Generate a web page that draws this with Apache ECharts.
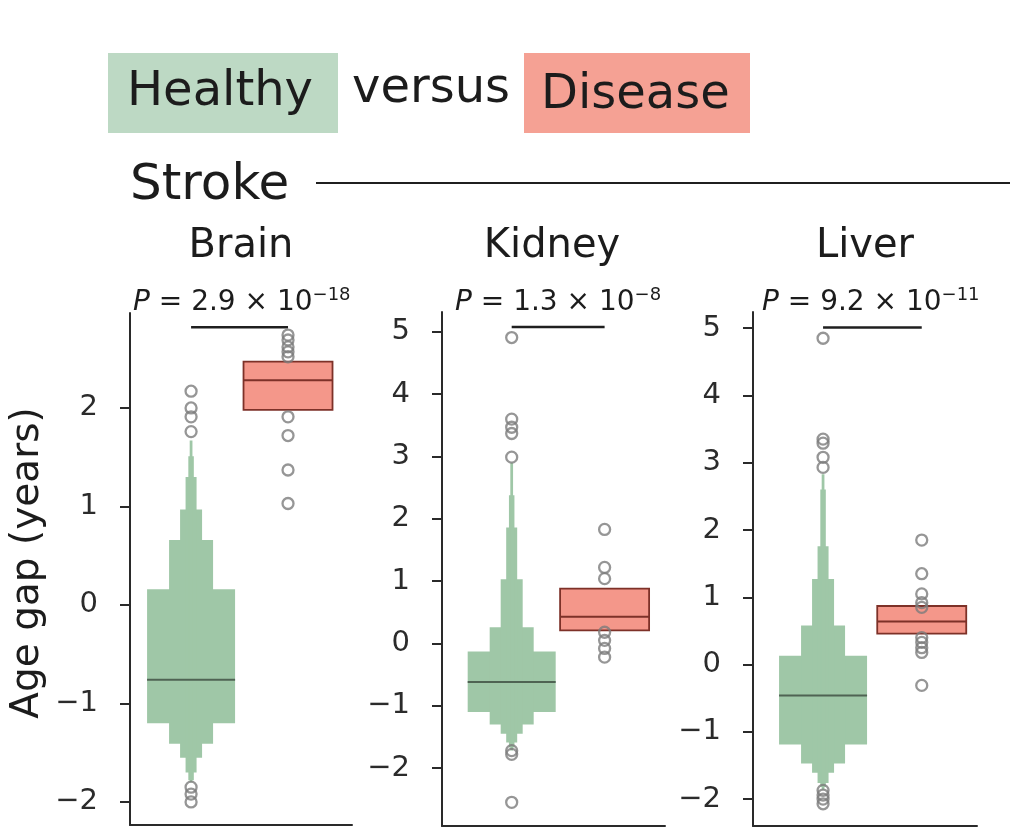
<!DOCTYPE html>
<html><head><meta charset="utf-8">
<script src="https://cdn.jsdelivr.net/npm/echarts@6/dist/echarts.min.js"></script>
<style>html,body{margin:0;padding:0;background:#fff}#c{width:1024px;height:831px}</style>
</head><body><div id="c"></div>
<script>
// ---------- data ----------
const organs = ['Brain', 'Kidney', 'Liver'];
const pMantissa = ['2.9', '1.3', '9.2'];
const pExponent = ['\u221218', '\u22128', '\u221211'];

const brainTicks = [-2, -1, 0, 1, 2];
const kidneyTicks = [-2, -1, 0, 1, 2, 3, 4, 5];
const liverTicks = [-2, -1, 0, 1, 2, 3, 4, 5];

// letter-value boxes for Healthy: [low, high] from widest (level 0) to narrowest
const brainHealthyLevels = [[-1.20, 0.16], [-1.41, 0.66], [-1.55, 0.97], [-1.70, 1.30], [-1.78, 1.51], [-1.80, 1.67]];
const kidneyHealthyLevels = [[-1.10, -0.13], [-1.30, 0.26], [-1.45, 1.03], [-1.59, 1.86], [-1.67, 2.38], [-1.72, 2.90]];
const liverHealthyLevels = [[-1.19, 0.13], [-1.47, 0.58], [-1.61, 1.27], [-1.76, 1.76], [-1.82, 2.60], [-1.86, 2.83]];

const brainHealthyMedian = -0.76;
const kidneyHealthyMedian = -0.62;
const liverHealthyMedian = -0.46;

const brainHealthyOutliers = [2.17, 2.00, 1.91, 1.76, -1.85, -1.92, -2.00];
const kidneyHealthyOutliers = [4.91, 3.60, 3.47, 3.37, 2.99, -1.72, -1.78, -2.55];
const liverHealthyOutliers = [4.85, 3.35, 3.29, 3.08, 2.93, -1.87, -1.94, -2.00, -2.07];

// Disease boxes: [q1, median, q3]
const brainDiseaseBox = [1.98, 2.28, 2.47];
const kidneyDiseaseBox = [0.21, 0.43, 0.88];
const liverDiseaseBox = [0.46, 0.64, 0.87];

const brainDiseaseOutliers = [2.74, 2.69, 2.62, 2.57, 2.52, 1.91, 1.72, 1.37, 1.03];
const kidneyDiseaseOutliers = [1.83, 1.22, 1.04, 0.18, 0.05, -0.08, -0.22];
const liverDiseaseOutliers = [1.85, 1.35, 1.05, 0.92, 0.85, 0.40, 0.33, 0.25, 0.18, -0.31];

// significance bracket height (value units)
const bracketLevels = [2.82, 5.08, 5.01];

// ---------- layout / style ----------
const FONT = 'DejaVu Sans';
const healthyFill = '#9fc7a7';
const diseaseFill = '#f4978a';
const diseaseEdge = '#7d3128';
const healthyMedianColor = '#4f6353';
const outlierColor = '#7c7c7c';
const axisColor = '#2a2a2a';
const textColor = '#1c1c1c';
const HALF_W = 44;
const DIS_HALF_W = 44.5;

const panels = [
  { left: 130, width: 222, top: 313, height: 512, yMin: -2.234, yMax: 2.964, xMin: -0.63, xMax: 1.66, ticks: brainTicks, pX: 133, titleX: 241 },
  { left: 442, width: 223, top: 312, height: 514, yMin: -2.93, yMax: 5.32, xMin: -0.75, xMax: 1.65, ticks: kidneyTicks, pX: 455, titleX: 552 },
  { left: 753, width: 224, top: 312, height: 514, yMin: -2.40, yMax: 5.24, xMin: -0.71, xMax: 1.56, ticks: liverTicks, pX: 762, titleX: 865 }
];

const healthyLevels = [brainHealthyLevels, kidneyHealthyLevels, liverHealthyLevels];
const healthyMedians = [brainHealthyMedian, kidneyHealthyMedian, liverHealthyMedian];
const healthyOutliers = [brainHealthyOutliers, kidneyHealthyOutliers, liverHealthyOutliers];
const diseaseBoxes = [brainDiseaseBox, kidneyDiseaseBox, liverDiseaseBox];
const diseaseOutliers = [brainDiseaseOutliers, kidneyDiseaseOutliers, liverDiseaseOutliers];

const fmt = v => String(v).replace('-', '\u2212');

const grid = [], xAxis = [], yAxis = [], series = [];
panels.forEach((p, i) => {
  grid.push({ left: p.left, top: p.top, width: p.width, height: p.height, containLabel: false });
  xAxis.push({
    type: 'value', gridIndex: i, min: p.xMin, max: p.xMax,
    axisLine: { show: true, onZero: false, lineStyle: { color: axisColor, width: 2 } },
    axisTick: { show: false }, axisLabel: { show: false }, splitLine: { show: false }
  });
  yAxis.push({
    type: 'value', gridIndex: i, min: p.yMin, max: p.yMax,
    axisLine: { show: true, onZero: false, lineStyle: { color: axisColor, width: 2 } },
    axisTick: { show: true, customValues: p.ticks, length: 10, lineStyle: { color: axisColor, width: 2 } },
    axisLabel: { show: true, customValues: p.ticks, formatter: fmt, fontFamily: FONT, fontSize: 29, color: '#2b2b2b', margin: 32 },
    splitLine: { show: false }
  });

  // healthy letter-value boxes
  series.push({
    type: 'custom', xAxisIndex: i, yAxisIndex: i, z: 2,
    data: healthyLevels[i].map((lv, k) => [0, lv[0], lv[1], k]),
    renderItem: (params, api) => {
      const x = api.value(0), lo = api.value(1), hi = api.value(2), lvl = api.value(3);
      const t = api.coord([x, hi]), b = api.coord([x, lo]);
      const hw = HALF_W / Math.pow(2, lvl);
      return { type: 'rect', shape: { x: t[0] - hw, y: t[1], width: 2 * hw, height: b[1] - t[1] }, style: { fill: healthyFill } };
    }
  });
  // healthy median
  series.push({
    type: 'custom', xAxisIndex: i, yAxisIndex: i, z: 3,
    data: [[0, healthyMedians[i]]],
    renderItem: (params, api) => {
      const c = api.coord([api.value(0), api.value(1)]);
      return { type: 'line', shape: { x1: c[0] - HALF_W, y1: c[1], x2: c[0] + HALF_W, y2: c[1] }, style: { stroke: healthyMedianColor, lineWidth: 2 } };
    }
  });
  // disease box
  series.push({
    type: 'custom', xAxisIndex: i, yAxisIndex: i, z: 3,
    data: [[1].concat(diseaseBoxes[i])],
    renderItem: (params, api) => {
      const x = api.value(0);
      const q1 = api.coord([x, api.value(1)]), md = api.coord([x, api.value(2)]), q3 = api.coord([x, api.value(3)]);
      return {
        type: 'group', children: [
          { type: 'rect', shape: { x: q3[0] - DIS_HALF_W, y: q3[1], width: 2 * DIS_HALF_W, height: q1[1] - q3[1] }, style: { fill: diseaseFill, stroke: diseaseEdge, lineWidth: 1.8 } },
          { type: 'line', shape: { x1: md[0] - DIS_HALF_W, y1: md[1], x2: md[0] + DIS_HALF_W, y2: md[1] }, style: { stroke: diseaseEdge, lineWidth: 2 } }
        ]
      };
    }
  });
  // outliers
  [[0, healthyOutliers[i]], [1, diseaseOutliers[i]]].forEach(([gx, arr]) => {
    series.push({
      type: 'scatter', xAxisIndex: i, yAxisIndex: i, z: 5,
      symbol: 'circle', symbolSize: 11,
      itemStyle: { color: 'rgba(255,255,255,0)', borderColor: outlierColor, borderWidth: 2.3 },
      data: arr.map(v => [gx, v]), silent: true
    });
  });
  // bracket
  series.push({
    type: 'line', xAxisIndex: i, yAxisIndex: i, z: 4, symbol: 'none', silent: true,
    lineStyle: { color: '#1f1f1f', width: 2.5 },
    data: [[0, bracketLevels[i]], [1, bracketLevels[i]]]
  });
});

const graphic = [
  { type: 'rect', shape: { x: 108, y: 53, width: 230, height: 80 }, style: { fill: '#bdd9c4' } },
  { type: 'text', x: 127, y: 93, style: { text: 'Healthy', font: '48px "' + FONT + '"', fill: textColor, verticalAlign: 'middle' } },
  { type: 'text', x: 352, y: 90, style: { text: 'versus', font: '48px "' + FONT + '"', fill: textColor, verticalAlign: 'middle' } },
  { type: 'rect', shape: { x: 524, y: 53, width: 226, height: 80 }, style: { fill: '#f5a194' } },
  { type: 'text', x: 541, y: 96, style: { text: 'Disease', font: '48px "' + FONT + '"', fill: textColor, verticalAlign: 'middle' } },
  { type: 'text', x: 130, y: 186, style: { text: 'Stroke', font: '50px "' + FONT + '"', fill: textColor, verticalAlign: 'middle' } },
  { type: 'line', shape: { x1: 316, y1: 183, x2: 1010, y2: 183 }, style: { stroke: '#1f1f1f', lineWidth: 2 } },
  { type: 'text', x: 28, y: 563, rotation: Math.PI / 2, style: { text: 'Age gap (years)', font: '39px "' + FONT + '"', fill: textColor, align: 'center', verticalAlign: 'middle' } }
];
panels.forEach((p, i) => {
  graphic.push({ type: 'text', x: p.titleX, y: 247, style: { text: organs[i], font: '40px "' + FONT + '"', fill: textColor, align: 'center', verticalAlign: 'middle' } });
  graphic.push({
    type: 'text', x: p.pX, y: 303,
    style: {
      text: '{i|P}{n| = ' + pMantissa[i] + ' \u00d7 10}{s|' + pExponent[i] + '}',
      verticalAlign: 'middle', fill: textColor,
      rich: {
        i: { fontFamily: FONT, fontStyle: 'italic', fontSize: 28, fill: textColor, lineHeight: 33 },
        n: { fontFamily: FONT, fontSize: 28, fill: textColor, lineHeight: 33 },
        s: { fontFamily: FONT, fontSize: 18, fill: textColor, verticalAlign: 'top', lineHeight: 21 }
      }
    }
  });
});

const chart = echarts.init(document.getElementById('c'), null, { renderer: 'canvas' });
chart.setOption({ animation: false, backgroundColor: '#fff', grid, xAxis, yAxis, series, graphic });
</script></body></html>
